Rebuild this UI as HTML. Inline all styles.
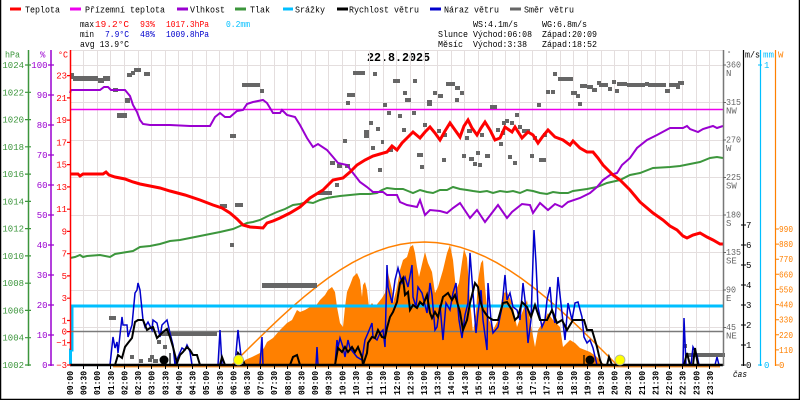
<!DOCTYPE html>
<html><head><meta charset="utf-8"><style>
html,body{margin:0;padding:0;background:#fff}
svg{display:block}
text{font-family:"Liberation Mono","DejaVu Sans Mono",monospace;font-size:9px}
.b{font-weight:bold}
</style></head><body>
<svg width="800" height="400" viewBox="0 0 800 400" xmlns="http://www.w3.org/2000/svg">
<rect width="800" height="400" fill="#fff"/>
<!-- frame -->
<path d="M0.5 0V399.5H799.5V0" fill="none" stroke="#000" stroke-width="1.5"/>

<!-- legend -->
<g stroke-width="3">
<line x1="10" y1="9" x2="21" y2="9" stroke="#ff0000"/>
<line x1="70" y1="9" x2="81" y2="9" stroke="#ee00ee"/>
<line x1="177" y1="9" x2="188" y2="9" stroke="#9a00d0"/>
<line x1="235" y1="9" x2="246" y2="9" stroke="#3c963c"/>
<line x1="283" y1="9" x2="293" y2="9" stroke="#00bfff"/>
<line x1="337" y1="9" x2="348" y2="9" stroke="#000"/>
<line x1="430" y1="9" x2="441" y2="9" stroke="#0000cc"/>
<line x1="510" y1="9" x2="521" y2="9" stroke="#666"/>
</g>
<g fill="#000">
<text x="25" y="12.5" textLength="35" lengthAdjust="spacingAndGlyphs">Teplota</text>
<text x="85" y="12.5" textLength="80" lengthAdjust="spacingAndGlyphs">Přízemní teplota</text>
<text x="190" y="12.5" textLength="35" lengthAdjust="spacingAndGlyphs">Vlhkost</text>
<text x="250" y="12.5" textLength="20" lengthAdjust="spacingAndGlyphs">Tlak</text>
<text x="295" y="12.5" textLength="30" lengthAdjust="spacingAndGlyphs">Srážky</text>
<text x="349" y="12.5" textLength="70" lengthAdjust="spacingAndGlyphs">Rychlost větru</text>
<text x="444" y="12.5" textLength="55" lengthAdjust="spacingAndGlyphs">Náraz větru</text>
<text x="524" y="12.5" textLength="50" lengthAdjust="spacingAndGlyphs">Směr větru</text>
</g>

<!-- stats -->
<text x="80" y="27" textLength="14" lengthAdjust="spacingAndGlyphs">max</text>
<text x="95" y="27" fill="#ff0000" textLength="34" lengthAdjust="spacingAndGlyphs">19.2°C</text>
<text x="140" y="27" fill="#ff0000" textLength="15" lengthAdjust="spacingAndGlyphs">93%</text>
<text x="166" y="27" fill="#ff0000" textLength="43" lengthAdjust="spacingAndGlyphs">1017.3hPa</text>
<text x="226" y="27" fill="#00bfff" textLength="24" lengthAdjust="spacingAndGlyphs">0.2mm</text>
<text x="80" y="37" textLength="14" lengthAdjust="spacingAndGlyphs">min</text>
<text x="105" y="37" fill="#0000cc" textLength="24" lengthAdjust="spacingAndGlyphs">7.9°C</text>
<text x="140" y="37" fill="#0000cc" textLength="15" lengthAdjust="spacingAndGlyphs">48%</text>
<text x="166" y="37" fill="#0000cc" textLength="43" lengthAdjust="spacingAndGlyphs">1009.8hPa</text>
<text x="80" y="47" textLength="49" lengthAdjust="spacingAndGlyphs">avg 13.9°C</text>

<text x="473" y="27" textLength="45" lengthAdjust="spacingAndGlyphs">WS:4.1m/s</text>
<text x="542" y="27" textLength="45" lengthAdjust="spacingAndGlyphs">WG:6.8m/s</text>
<text x="438" y="37" textLength="30" lengthAdjust="spacingAndGlyphs">Slunce</text>
<text x="473" y="37" textLength="59" lengthAdjust="spacingAndGlyphs">Východ:06:08</text>
<text x="542" y="37" textLength="55" lengthAdjust="spacingAndGlyphs">Západ:20:09</text>
<text x="438" y="47" textLength="25" lengthAdjust="spacingAndGlyphs">Měsíc</text>
<text x="473" y="47" textLength="54" lengthAdjust="spacingAndGlyphs">Východ:3:38</text>
<text x="542" y="47" textLength="55" lengthAdjust="spacingAndGlyphs">Západ:18:52</text>

<!-- title -->
<text x="367" y="61" class="b" style="font-size:12px" textLength="63" lengthAdjust="spacingAndGlyphs">22.8.2025</text>

<!-- grid -->
<path d="M83.5 50V365M97.5 50V365M110.5 50V365M124.5 50V365M138.5 50V365M151.5 50V365M165.5 50V365M178.5 50V365M192.5 50V365M206.5 50V365M219.5 50V365M233.5 50V365M247.5 50V365M260.5 50V365M274.5 50V365M287.5 50V365M301.5 50V365M315.5 50V365M328.5 50V365M342.5 50V365M355.5 50V365M369.5 50V365M383.5 50V365M396.5 50V365M410.5 50V365M424.5 50V365M437.5 50V365M451.5 50V365M464.5 50V365M478.5 50V365M492.5 50V365M505.5 50V365M519.5 50V365M532.5 50V365M546.5 50V365M560.5 50V365M573.5 50V365M587.5 50V365M601.5 50V365M614.5 50V365M628.5 50V365M641.5 50V365M655.5 50V365M669.5 50V365M682.5 50V365M696.5 50V365M709.5 50V365
M70 50.5H723M70 65.5H723M70 102.5H723M70 140.5H723M70 177.5H723M70 215.5H723M70 252.5H723M70 290.5H723M70 327.5H723" stroke="#e4dede" stroke-width="1" fill="none"/>

<!-- solar fill -->
<polygon fill="#ff8000" points="243,365 245,360 252,357 260,353 264,348 267,342 273,338 280,330 287,323 292,320 297,310 300,312 305,310 310,307 315,307 320,300 325,295 328,290 332,287 335,292 337,307 340,323 343,327 345,307 347,292 350,285 353,277 357,273 360,280 362,297 363,285 365,282 367,290 369,307 372,303 375,307 378,303 382,298 385,293 388,273 392,290 393,303 397,287 400,270 403,260 407,257 410,247 413,245 415,253 417,267 419,277 423,260 425,252 428,263 432,272 435,293 438,287 443,270 447,253 450,245 453,260 456,290 459,283 462,262 464,249 467,258 470,300 473,333 476,313 478,280 481,263 483,260 485,287 488,317 493,330 498,320 503,293 507,292 512,303 517,327 522,313 527,300 530,320 535,347 538,330 543,322 548,313 553,320 560,327 563,347 570,340 575,343 580,348 585,350 590,352 597,357 602,363 607,365"/>
<!-- theoretical solar -->
<polyline fill="none" stroke="#ff8000" stroke-width="1.5" points="232,365 244,352.9 256.1,341 268.1,329.3 280.1,317.9 292.2,307 304.2,296.7 316.2,287 328.2,278 340.3,269.9 352.3,262.7 364.3,256.5 376.4,251.4 388.4,247.3 400.4,244.4 412.5,242.6 424.5,242 436.5,242.6 448.6,244.4 460.6,247.3 472.6,251.4 484.7,256.5 496.7,262.7 508.7,269.9 520.8,278 532.8,287 544.8,296.7 556.8,307 568.9,317.9 580.9,329.3 592.9,341 604.9,352.9 617,365"/>

<!-- rain -->
<polyline fill="none" stroke="#00bfff" stroke-width="3" points="70.5,365 70.5,350 72,350 72,306 723,306"/>
<!-- zero line -->
<line x1="70" y1="331.5" x2="723" y2="331.5" stroke="#7a7a7a" stroke-width="1.5"/>
<!-- magenta -->
<line x1="70" y1="109.5" x2="723" y2="109.5" stroke="#ee00ee" stroke-width="1.5"/>

<!-- wind direction -->
<g fill="#666">
<rect x="70" y="73" width="4" height="6"/><rect x="73" y="76" width="25" height="5"/><rect x="98" y="78" width="6" height="5"/><rect x="103" y="76" width="7" height="5"/><rect x="113" y="88" width="5" height="4"/><rect x="117" y="113" width="10" height="5"/><rect x="125" y="98" width="5" height="5"/><rect x="127" y="73" width="5" height="4"/><rect x="131" y="71" width="4" height="4"/><rect x="134" y="68" width="7" height="4"/><rect x="144" y="72" width="6" height="4"/>
<rect x="230" y="134" width="6" height="4"/><rect x="242" y="83" width="18" height="4"/><rect x="260" y="89" width="4" height="4"/><rect x="220" y="204" width="7" height="4"/><rect x="235" y="203" width="8" height="4"/><rect x="230" y="243" width="4" height="4"/><rect x="262" y="283" width="55" height="5"/>
<rect x="318" y="191" width="14" height="4"/><rect x="330" y="161" width="5" height="4"/><rect x="335" y="183" width="4" height="4"/><rect x="337" y="164" width="5" height="4"/><rect x="343" y="139" width="4" height="4"/><rect x="345" y="164" width="5" height="4"/><rect x="346" y="101" width="4" height="4"/><rect x="347" y="93" width="8" height="4"/><rect x="353" y="71" width="12" height="4"/><rect x="364" y="130" width="5" height="8"/><rect x="369" y="121" width="4" height="4"/><rect x="371" y="146" width="4" height="4"/><rect x="373" y="72" width="4" height="4"/><rect x="376" y="127" width="4" height="4"/><rect x="378" y="168" width="4" height="4"/><rect x="381" y="140" width="3" height="4"/><rect x="383" y="103" width="4" height="4"/><rect x="387" y="111" width="4" height="4"/><rect x="388" y="148" width="5" height="4"/><rect x="393" y="79" width="7" height="4"/><rect x="398" y="114" width="4" height="4"/><rect x="402" y="128" width="4" height="4"/><rect x="403" y="91" width="4" height="4"/><rect x="405" y="98" width="6" height="4"/><rect x="412" y="111" width="4" height="4"/><rect x="413" y="79" width="4" height="4"/><rect x="417" y="153" width="6" height="4"/><rect x="420" y="165" width="4" height="4"/><rect x="423" y="123" width="4" height="4"/><rect x="427" y="100" width="5" height="6"/><rect x="433" y="91" width="4" height="4"/><rect x="437" y="129" width="4" height="4"/><rect x="438" y="94" width="5" height="4"/><rect x="442" y="158" width="4" height="4"/><rect x="443" y="133" width="4" height="4"/><rect x="446" y="82" width="9" height="4"/><rect x="455" y="86" width="5" height="4"/><rect x="455" y="98" width="4" height="4"/><rect x="460" y="91" width="4" height="4"/><rect x="462" y="154" width="4" height="4"/><rect x="465" y="136" width="4" height="4"/><rect x="467" y="129" width="5" height="4"/><rect x="469" y="157" width="5" height="4"/><rect x="473" y="162" width="4" height="4"/><rect x="476" y="151" width="4" height="4"/><rect x="478" y="163" width="4" height="4"/><rect x="480" y="133" width="4" height="4"/><rect x="485" y="154" width="5" height="4"/><rect x="490" y="105" width="7" height="4"/><rect x="496" y="128" width="4" height="4"/><rect x="499" y="142" width="4" height="4"/><rect x="502" y="121" width="4" height="4"/><rect x="501" y="131" width="4" height="4"/><rect x="505" y="119" width="4" height="4"/><rect x="508" y="155" width="4" height="4"/><rect x="510" y="121" width="4" height="4"/><rect x="513" y="161" width="4" height="4"/><rect x="515" y="113" width="4" height="4"/><rect x="518" y="125" width="4" height="4"/><rect x="522" y="129" width="8" height="4"/><rect x="530" y="154" width="4" height="4"/><rect x="533" y="136" width="4" height="4"/><rect x="537" y="103" width="4" height="4"/><rect x="539" y="158" width="7" height="4"/><rect x="543" y="133" width="4" height="4"/><rect x="546" y="90" width="4" height="4"/><rect x="551" y="90" width="4" height="4"/><rect x="553" y="72" width="4" height="4"/><rect x="558" y="77" width="15" height="4"/><rect x="571" y="91" width="6" height="4"/><rect x="576" y="94" width="4" height="4"/><rect x="578" y="102" width="4" height="4"/><rect x="580" y="84" width="7" height="4"/><rect x="587" y="85" width="6" height="4"/><rect x="592" y="88" width="5" height="4"/><rect x="597" y="81" width="4" height="4"/><rect x="599" y="83" width="9" height="4"/><rect x="608" y="87" width="4" height="4"/><rect x="612" y="80" width="4" height="4"/><rect x="615" y="89" width="4" height="4"/><rect x="617" y="82" width="10" height="4"/><rect x="627" y="83" width="18" height="4"/><rect x="645" y="82" width="4" height="4"/><rect x="648" y="83" width="18" height="4"/><rect x="665" y="89" width="5" height="4"/><rect x="669" y="83" width="9" height="4"/><rect x="676" y="85" width="4" height="4"/><rect x="678" y="81" width="6" height="4"/>
<rect x="109" y="316" width="7" height="4"/><rect x="130" y="355" width="4" height="4"/><rect x="139" y="359" width="4" height="4"/><rect x="148" y="358" width="4" height="4"/><rect x="150" y="355" width="4" height="4"/><rect x="153" y="359" width="5" height="4"/><rect x="157" y="340" width="4" height="4"/><rect x="163" y="345" width="4" height="4"/><rect x="160" y="332" width="57" height="4"/><rect x="683" y="344" width="4" height="4"/><rect x="685" y="353" width="40" height="4"/>
</g>

<!-- pressure -->
<polyline fill="none" stroke="#3c963c" stroke-width="2" points="70,258 75,257 80,255 83,257 87,256 100,255 110,257 115,254 127,252 133,251 140,247 150,246 160,244 170,241 180,240 190,238 200,236 210,234 220,232 233,229 240,226 247,223 253,222 260,220 268,216 277,212 285,209 293,205 300,204 307,202 313,203 320,200 327,198 333,197 340,196 350,195 360,194 370,194 377,193 382,190 387,188 395,189 403,189 408,191 413,193 420,190 427,192 433,193 440,190 447,190 453,187 460,189 467,190 473,191 480,192 487,191 493,193 500,191 507,192 513,191 520,193 527,190 533,191 540,193 547,194 553,192 560,193 568,193 573,191 580,190 587,189 597,187 607,183 620,180 630,175 640,173 653,168 670,167 680,166 690,164 700,162 710,158 717,157 723,158"/>
<!-- humidity -->
<polyline fill="none" stroke="#9a00d0" stroke-width="2" points="70,93 71,90 100,90 104,87 108,87 111,90 125,90 130,96 133,105 137,112 140,120 143,124 150,125 170,125 190,126 200,126 210,126 215,117 220,113 225,117 230,117 237,111 243,110 247,104 253,102 263,100 267,103 273,113 280,113 282,110 287,115 295,117 300,125 307,138 313,147 318,144 327,150 333,157 338,163 347,165 353,173 360,182 367,187 373,192 383,192 387,195 397,195 400,202 407,205 417,207 420,200 425,215 430,210 440,211 447,213 453,208 460,203 470,218 477,210 485,222 498,205 507,218 512,212 522,204 530,205 533,213 540,203 548,210 555,204 562,207 568,202 580,198 590,193 597,187 603,180 610,175 617,173 622,165 630,158 637,148 647,140 657,135 670,128 683,128 687,126 690,129 698,132 703,129 713,126 717,128 723,126"/>
<!-- temperature -->
<polyline fill="none" stroke="#ff0000" stroke-width="3" points="70,174 78,174 80,176 83,174 103,174 106,172 109,175 115,177 125,179 133,182 140,184 150,186 160,188 170,191 185,195 200,200 213,205 222,208 230,213 237,219 243,225 250,227 263,228 267,223 273,221 280,218 290,213 300,207 310,198 323,190 333,180 343,178 350,172 357,165 365,160 373,156 380,154 387,152 392,146 397,150 402,143 407,138 413,132 420,138 425,132 430,127 435,133 440,140 445,131 450,123 455,130 460,137 464,126 468,120 472,128 477,135 481,128 485,122 490,130 495,140 500,138 505,127 512,132 515,127 522,138 528,132 533,135 538,143 543,136 548,130 555,137 563,140 570,145 573,141 580,148 587,152 593,152 598,158 603,165 613,175 620,180 630,190 640,202 653,213 663,220 670,226 677,230 683,236 687,238 693,235 700,233 707,237 713,240 720,244 723,244"/>

<!-- orange zero baseline -->
<line x1="113" y1="366.8" x2="720" y2="366.8" stroke="#ff8000" stroke-width="1.2"/>

<!-- gusts -->
<polyline fill="none" stroke="#0000cc" stroke-width="1.5" points="70,365 110,365 113,337 115,348 117,342 118,353 122,317 123,325 127,325 128,337 132,325 135,293 137,290 138,283 140,290 143,320 145,327 148,322 152,330 153,320 157,323 160,337 162,325 165,322 167,320 170,333 173,345 175,365 178,357 182,348 185,350 187,345 188,347 190,352 192,365 218,365 220,330 222,365 235,365 238,330 242,365 260,365 262,337 263,365 316,365 317,347 318,365 335,365 337,340 338,347 340,338 343,347 345,357 348,340 350,348 353,352 357,357 362,360 365,340 368,333 372,323 373,337 377,340 380,333 383,330 385,347 387,265 388,287 392,303 395,280 398,268 402,283 405,277 408,287 412,265 413,297 416,307 418,287 422,293 425,305 427,313 430,283 432,295 435,330 437,327 440,305 443,340 446,303 450,310 453,293 456,283 459,320 462,338 465,315 468,303 470,253 473,293 476,333 478,313 481,290 483,320 487,350 488,283 491,320 493,333 498,327 502,307 505,275 507,300 510,293 513,307 517,310 520,320 523,283 525,300 528,343 531,320 533,260 534,230 536,263 538,307 542,327 545,320 547,300 550,287 552,310 555,323 558,277 562,313 565,340 568,303 572,320 575,303 578,302 582,317 584,337 587,343 590,340 593,348 597,365 683,365 684,318 686,365 691,365 693,347 697,355 699,365 715,365 717,357 719,365 723,365"/>
<!-- wind speed -->
<polyline fill="none" stroke="#000" stroke-width="2" points="70,365 115,365 118,355 122,358 125,347 128,343 132,338 135,322 138,320 143,320 147,330 150,328 153,327 157,338 160,335 163,332 167,329 170,337 173,347 177,363 180,355 183,352 187,347 190,350 193,355 197,355 200,365 220,365 222,357 225,365 235,365 238,353 242,358 245,365 290,365 293,357 297,355 300,365 335,365 338,348 342,352 345,347 348,352 352,347 355,352 358,347 362,357 363,365 367,353 368,343 372,337 375,338 378,330 382,337 385,338 387,328 390,317 393,312 397,302 400,283 403,278 405,295 408,292 410,310 413,305 417,308 420,302 423,305 427,295 430,313 432,318 435,312 438,317 443,297 448,293 452,300 455,295 460,312 463,330 467,320 470,303 475,283 478,287 480,300 483,310 488,317 493,320 498,320 503,303 507,302 512,310 515,320 518,317 522,302 527,307 531,317 535,305 540,320 547,320 552,310 557,323 562,320 567,330 573,320 580,320 584,320 587,330 592,330 597,347 600,360 602,365 607,365 609,357 612,365 684,365 687,353 690,365 693,365 695,348 698,365 723,365"/>

<!-- bottom axis -->
<line x1="70" y1="365" x2="723" y2="365" stroke="#000" stroke-width="2.5"/>
<path d="M83.5 366V369M97.5 366V369M110.5 366V369M124.5 366V369M138.5 366V369M151.5 366V369M165.5 366V369M178.5 366V369M192.5 366V369M206.5 366V369M219.5 366V369M233.5 366V369M247.5 366V369M260.5 366V369M274.5 366V369M287.5 366V369M301.5 366V369M315.5 366V369M328.5 366V369M342.5 366V369M355.5 366V369M369.5 366V369M383.5 366V369M396.5 366V369M410.5 366V369M424.5 366V369M437.5 366V369M451.5 366V369M464.5 366V369M478.5 366V369M492.5 366V369M505.5 366V369M519.5 366V369M532.5 366V369M546.5 366V369M560.5 366V369M573.5 366V369M587.5 366V369M601.5 366V369M614.5 366V369M628.5 366V369M641.5 366V369M655.5 366V369M669.5 366V369M682.5 366V369M696.5 366V369M709.5 366V369" stroke="#000" stroke-width="1"/>

<!-- markers -->
<circle cx="164" cy="360" r="4.5" fill="#000"/>
<line x1="170" y1="353" x2="170" y2="365" stroke="#000" stroke-width="1.2"/>
<circle cx="590" cy="360" r="4.5" fill="#000"/>
<line x1="584" y1="355" x2="584" y2="365" stroke="#000" stroke-width="1.2"/>
<circle cx="238.5" cy="360" r="5" fill="#ffff00" stroke="#aaa" stroke-width="0.8"/>
<circle cx="620" cy="360" r="5" fill="#ffff00" stroke="#aaa" stroke-width="0.8"/>

<!-- left axes -->
<line x1="28.5" y1="50" x2="28.5" y2="366" stroke="#3c963c" stroke-width="1.5"/>
<line x1="51" y1="50" x2="51" y2="366" stroke="#9a00d0" stroke-width="1.5"/>
<line x1="70.5" y1="50" x2="70.5" y2="350" stroke="#ff0000" stroke-width="1.5"/>
<text x="5" y="57.5" fill="#3c963c" textLength="15" lengthAdjust="spacingAndGlyphs">hPa</text>
<text x="40" y="57.5" fill="#9a00d0">%</text>
<text x="58" y="57.5" fill="#ff0000" textLength="10" lengthAdjust="spacingAndGlyphs">°C</text>

<path d="M25 65H31M25 92.3H31M25 119.6H31M25 146.8H31M25 174.1H31M25 201.4H31M25 228.6H31M25 255.9H31M25 283.2H31M25 310.4H31M25 337.7H31M25 365H31" stroke="#3c963c" stroke-width="1.2"/>
<g fill="#3c963c" text-anchor="end">
<text x="24" y="68">1024</text><text x="24" y="95.3">1022</text><text x="24" y="122.6">1020</text><text x="24" y="149.8">1018</text><text x="24" y="177.1">1016</text><text x="24" y="204.4">1014</text><text x="24" y="231.6">1012</text><text x="24" y="258.9">1010</text><text x="24" y="286.2">1008</text><text x="24" y="313.4">1006</text><text x="24" y="340.7">1004</text><text x="24" y="368">1002</text>
</g>
<path d="M48 65H54M48 95H54M48 125H54M48 155H54M48 185H54M48 215H54M48 245H54M48 275H54M48 305H54M48 335H54M48 365H54" stroke="#9a00d0" stroke-width="1.2"/>
<g fill="#9a00d0" text-anchor="end">
<text x="47.5" y="68">100</text><text x="47.5" y="98">90</text><text x="47.5" y="128">80</text><text x="47.5" y="158">70</text><text x="47.5" y="188">60</text><text x="47.5" y="218">50</text><text x="47.5" y="248">40</text><text x="47.5" y="278">30</text><text x="47.5" y="308">20</text><text x="47.5" y="338">10</text><text x="47.5" y="368">0</text>
</g>
<path d="M67 75.6H71M67 97.9H71M67 120.1H71M67 142.4H71M67 164.6H71M67 186.9H71M67 209.2H71M67 231.4H71M67 253.7H71M67 275.9H71M67 298.2H71M67 320.5H71M67 331.6H71M67 342.7H71M67 365H71" stroke="#ff0000" stroke-width="1.2"/>
<g fill="#ff0000" text-anchor="end">
<text x="67" y="78.6">23</text><text x="67" y="100.9">21</text><text x="67" y="123.1">19</text><text x="67" y="145.4">17</text><text x="67" y="167.6">15</text><text x="67" y="189.9">13</text><text x="67" y="212.2">11</text><text x="67" y="234.4">9</text><text x="67" y="256.7">7</text><text x="67" y="278.9">5</text><text x="67" y="301.2">3</text><text x="67" y="323.5">1</text><text x="67" y="334.6">0</text><text x="67" y="345.7">−1</text><text x="67" y="368">−3</text>
</g>

<!-- right axes -->
<line x1="723.5" y1="50" x2="723.5" y2="366" stroke="#777" stroke-width="1.5"/>
<line x1="743.5" y1="50" x2="743.5" y2="366" stroke="#000" stroke-width="1.2"/>
<line x1="760.5" y1="50" x2="760.5" y2="366" stroke="#00bfff" stroke-width="1.2"/>
<line x1="775.5" y1="50" x2="775.5" y2="366" stroke="#ff8000" stroke-width="1.2"/>
<text x="727" y="56" fill="#666" style="font-size:7px">°</text>
<text x="745" y="57.5" textLength="15" lengthAdjust="spacingAndGlyphs">m/s</text>
<text x="763" y="57.5" fill="#00bfff" textLength="11" lengthAdjust="spacingAndGlyphs">mm</text>
<text x="778" y="57.5" fill="#ff8000">W</text>

<path d="M723 65H726M723 102.5H726M723 140H726M723 177.5H726M723 215H726M723 252.5H726M723 290H726M723 327.5H726" stroke="#666" stroke-width="1"/>
<g fill="#666">
<text x="726" y="67.5" textLength="15" lengthAdjust="spacingAndGlyphs">360</text><text x="726" y="76">N</text>
<text x="726" y="105" textLength="15" lengthAdjust="spacingAndGlyphs">315</text><text x="726" y="113.5">NW</text>
<text x="726" y="142.5" textLength="15" lengthAdjust="spacingAndGlyphs">270</text><text x="726" y="151">W</text>
<text x="726" y="180" textLength="15" lengthAdjust="spacingAndGlyphs">225</text><text x="726" y="188.5">SW</text>
<text x="726" y="217.5" textLength="15" lengthAdjust="spacingAndGlyphs">180</text><text x="726" y="226">S</text>
<text x="726" y="255" textLength="15" lengthAdjust="spacingAndGlyphs">135</text><text x="726" y="263.5">SE</text>
<text x="726" y="292.5" textLength="10" lengthAdjust="spacingAndGlyphs">90</text><text x="726" y="301">E</text>
<text x="726" y="330" textLength="10" lengthAdjust="spacingAndGlyphs">45</text><text x="726" y="338.5">NE</text>
</g>

<path d="M741 225H746M741 245H746M741 265H746M741 285H746M741 305H746M741 325H746M741 345H746M741 365H746" stroke="#000" stroke-width="1"/>
<g fill="#000">
<text x="746" y="228">7</text><text x="746" y="248">6</text><text x="746" y="268">5</text><text x="746" y="288">4</text><text x="746" y="308">3</text><text x="746" y="328">2</text><text x="746" y="348">1</text><text x="746" y="368">0</text>
</g>
<path d="M758 65H762M758 365H762" stroke="#00bfff" stroke-width="1"/>
<text x="764" y="68" fill="#00bfff">1</text>
<text x="764" y="368" fill="#00bfff">0</text>

<path d="M775 229H779M775 244.1H779M775 259.2H779M775 274.3H779M775 289.4H779M775 304.6H779M775 319.7H779M775 334.8H779M775 349.9H779M775 365H779" stroke="#ff8000" stroke-width="1"/>
<g fill="#ff8000">
<text x="779" y="232" textLength="14" lengthAdjust="spacingAndGlyphs">990</text><text x="779" y="247.1" textLength="14" lengthAdjust="spacingAndGlyphs">880</text><text x="779" y="262.2" textLength="14" lengthAdjust="spacingAndGlyphs">770</text><text x="779" y="277.3" textLength="14" lengthAdjust="spacingAndGlyphs">660</text><text x="779" y="292.4" textLength="14" lengthAdjust="spacingAndGlyphs">550</text><text x="779" y="307.6" textLength="14" lengthAdjust="spacingAndGlyphs">440</text><text x="779" y="322.7" textLength="14" lengthAdjust="spacingAndGlyphs">330</text><text x="779" y="337.8" textLength="14" lengthAdjust="spacingAndGlyphs">220</text><text x="779" y="352.9" textLength="14" lengthAdjust="spacingAndGlyphs">110</text><text x="779" y="368">0</text>
</g>
<text x="733" y="377" textLength="14" lengthAdjust="spacingAndGlyphs" style="font-style:italic">čas</text>

<!-- x labels -->
<g class="b" fill="#000">
<text transform="translate(73,395) rotate(-90)" textLength="24" lengthAdjust="spacingAndGlyphs">00:00</text>
<text transform="translate(86.6,395) rotate(-90)" textLength="24" lengthAdjust="spacingAndGlyphs">00:30</text>
<text transform="translate(100.2,395) rotate(-90)" textLength="24" lengthAdjust="spacingAndGlyphs">01:00</text>
<text transform="translate(113.8,395) rotate(-90)" textLength="24" lengthAdjust="spacingAndGlyphs">01:30</text>
<text transform="translate(127.5,395) rotate(-90)" textLength="24" lengthAdjust="spacingAndGlyphs">02:00</text>
<text transform="translate(141.1,395) rotate(-90)" textLength="24" lengthAdjust="spacingAndGlyphs">02:30</text>
<text transform="translate(154.7,395) rotate(-90)" textLength="24" lengthAdjust="spacingAndGlyphs">03:00</text>
<text transform="translate(168.3,395) rotate(-90)" textLength="24" lengthAdjust="spacingAndGlyphs">03:30</text>
<text transform="translate(181.9,395) rotate(-90)" textLength="24" lengthAdjust="spacingAndGlyphs">04:00</text>
<text transform="translate(195.5,395) rotate(-90)" textLength="24" lengthAdjust="spacingAndGlyphs">04:30</text>
<text transform="translate(209.2,395) rotate(-90)" textLength="24" lengthAdjust="spacingAndGlyphs">05:00</text>
<text transform="translate(222.8,395) rotate(-90)" textLength="24" lengthAdjust="spacingAndGlyphs">05:30</text>
<text transform="translate(236.4,395) rotate(-90)" textLength="24" lengthAdjust="spacingAndGlyphs">06:00</text>
<text transform="translate(250,395) rotate(-90)" textLength="24" lengthAdjust="spacingAndGlyphs">06:30</text>
<text transform="translate(263.6,395) rotate(-90)" textLength="24" lengthAdjust="spacingAndGlyphs">07:00</text>
<text transform="translate(277.2,395) rotate(-90)" textLength="24" lengthAdjust="spacingAndGlyphs">07:30</text>
<text transform="translate(290.8,395) rotate(-90)" textLength="24" lengthAdjust="spacingAndGlyphs">08:00</text>
<text transform="translate(304.5,395) rotate(-90)" textLength="24" lengthAdjust="spacingAndGlyphs">08:30</text>
<text transform="translate(318.1,395) rotate(-90)" textLength="24" lengthAdjust="spacingAndGlyphs">09:00</text>
<text transform="translate(331.7,395) rotate(-90)" textLength="24" lengthAdjust="spacingAndGlyphs">09:30</text>
<text transform="translate(345.3,395) rotate(-90)" textLength="24" lengthAdjust="spacingAndGlyphs">10:00</text>
<text transform="translate(358.9,395) rotate(-90)" textLength="24" lengthAdjust="spacingAndGlyphs">10:30</text>
<text transform="translate(372.5,395) rotate(-90)" textLength="24" lengthAdjust="spacingAndGlyphs">11:00</text>
<text transform="translate(386.1,395) rotate(-90)" textLength="24" lengthAdjust="spacingAndGlyphs">11:30</text>
<text transform="translate(399.8,395) rotate(-90)" textLength="24" lengthAdjust="spacingAndGlyphs">12:00</text>
<text transform="translate(413.4,395) rotate(-90)" textLength="24" lengthAdjust="spacingAndGlyphs">12:30</text>
<text transform="translate(427,395) rotate(-90)" textLength="24" lengthAdjust="spacingAndGlyphs">13:00</text>
<text transform="translate(440.6,395) rotate(-90)" textLength="24" lengthAdjust="spacingAndGlyphs">13:30</text>
<text transform="translate(454.2,395) rotate(-90)" textLength="24" lengthAdjust="spacingAndGlyphs">14:00</text>
<text transform="translate(467.8,395) rotate(-90)" textLength="24" lengthAdjust="spacingAndGlyphs">14:30</text>
<text transform="translate(481.5,395) rotate(-90)" textLength="24" lengthAdjust="spacingAndGlyphs">15:00</text>
<text transform="translate(495.1,395) rotate(-90)" textLength="24" lengthAdjust="spacingAndGlyphs">15:30</text>
<text transform="translate(508.7,395) rotate(-90)" textLength="24" lengthAdjust="spacingAndGlyphs">16:00</text>
<text transform="translate(522.3,395) rotate(-90)" textLength="24" lengthAdjust="spacingAndGlyphs">16:30</text>
<text transform="translate(535.9,395) rotate(-90)" textLength="24" lengthAdjust="spacingAndGlyphs">17:00</text>
<text transform="translate(549.5,395) rotate(-90)" textLength="24" lengthAdjust="spacingAndGlyphs">17:30</text>
<text transform="translate(563.1,395) rotate(-90)" textLength="24" lengthAdjust="spacingAndGlyphs">18:00</text>
<text transform="translate(576.8,395) rotate(-90)" textLength="24" lengthAdjust="spacingAndGlyphs">18:30</text>
<text transform="translate(590.4,395) rotate(-90)" textLength="24" lengthAdjust="spacingAndGlyphs">19:00</text>
<text transform="translate(604,395) rotate(-90)" textLength="24" lengthAdjust="spacingAndGlyphs">19:30</text>
<text transform="translate(617.6,395) rotate(-90)" textLength="24" lengthAdjust="spacingAndGlyphs">20:00</text>
<text transform="translate(631.2,395) rotate(-90)" textLength="24" lengthAdjust="spacingAndGlyphs">20:30</text>
<text transform="translate(644.8,395) rotate(-90)" textLength="24" lengthAdjust="spacingAndGlyphs">21:00</text>
<text transform="translate(658.4,395) rotate(-90)" textLength="24" lengthAdjust="spacingAndGlyphs">21:30</text>
<text transform="translate(672.1,395) rotate(-90)" textLength="24" lengthAdjust="spacingAndGlyphs">22:00</text>
<text transform="translate(685.7,395) rotate(-90)" textLength="24" lengthAdjust="spacingAndGlyphs">22:30</text>
<text transform="translate(699.3,395) rotate(-90)" textLength="24" lengthAdjust="spacingAndGlyphs">23:00</text>
<text transform="translate(712.9,395) rotate(-90)" textLength="24" lengthAdjust="spacingAndGlyphs">23:30</text>
</g>
</svg>
</body></html>
